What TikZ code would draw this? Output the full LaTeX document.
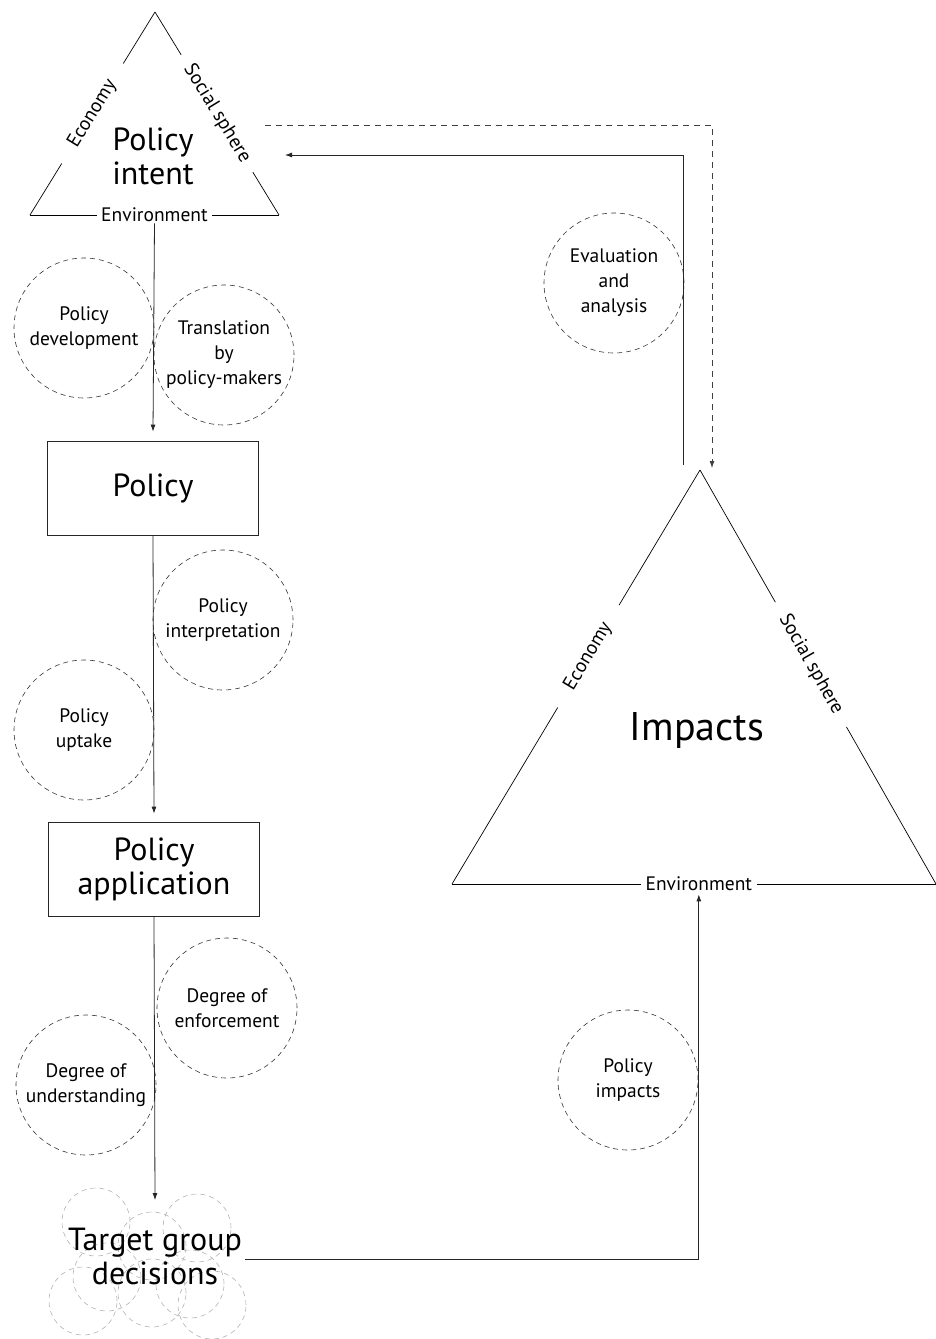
\documentclass[tikz,border=0pt]{standalone}
\usepackage{fontspec}
\setmainfont{PT Sans}
\usetikzlibrary{arrows.meta}
\newcommand{\labelFont}{\fontsize{19.5}{25}\selectfont}
\newcommand{\titleFont}{\fontsize{32}{34}\selectfont}
\newcommand{\impactFont}{\fontsize{40}{46}\selectfont}
\tikzset{
  triEdge/.style={draw=black, line width=0.7pt},
  triLabel/.style={sloped, fill=white, font=\labelFont, inner ysep=1pt},
  stageBox/.style={draw=black!85, line width=0.8pt, minimum width=211pt, minimum height=94pt, align=center, font=\titleFont},
  factorCircle/.style={circle, draw=black!80, line width=0.6pt, dash pattern=on 5pt off 4pt, minimum size=140pt, inner sep=0pt, align=center, font=\labelFont},
  groupCircle/.style={circle, draw=black!30, line width=0.6pt, dash pattern=on 5pt off 4pt, minimum size=68pt, inner sep=0pt},
  flowArrow/.style={-{Latex[length=7pt,width=5pt]}, draw=black!85, line width=0.8pt},
  flowDashedArrow/.style={-{Latex[length=7pt,width=5pt]}, draw=black!75, line width=0.8pt, dash pattern=on 6pt off 5pt}
}
\begin{document}
\begin{tikzpicture}[x=1pt, y=-1pt]
  \useasboundingbox (0,0) rectangle (936,1339);
  % policy intent triangle
  \coordinate (intentTop) at (155,12);
  \coordinate (intentLeft) at (30,215);
  \coordinate (intentRight) at (279,215);
  \draw[triEdge] (intentTop) -- node[triLabel, inner xsep=21pt] (intentEco) {Economy} (intentLeft);
  \draw[triEdge] (intentTop) -- node[triLabel, inner xsep=13pt] (intentSoc) {Social sphere} (intentRight);
  \draw[triEdge] (intentLeft) -- node[triLabel, inner xsep=4pt] (intentEnv) {Environment} (intentRight);
  \node[font=\titleFont, align=center] (intent) at (153,156) {Policy\\intent};

  % impacts triangle
  \coordinate (impTop) at (700,470);
  \coordinate (impLeft) at (452,884);
  \coordinate (impRight) at (936,884);
  \draw[triEdge] (impTop) -- node[triLabel, pos=0.45, inner xsep=22pt] (impEco) {Economy} (impLeft);
  \draw[triEdge] (impTop) -- node[triLabel, pos=0.47, inner xsep=16pt] (impSoc) {Social sphere} (impRight);
  \draw[triEdge] (impLeft) -- node[triLabel, pos=0.51, inner xsep=5pt] (impEnv) {Environment} (impRight);
  \node[font=\impactFont] (impacts) at (697,730) {Impacts};

  % boxes and target group
  \node[stageBox] (policy) at (153,488) {Policy};
  \node[stageBox] (policyApp) at (154,869) {Policy\\application};
  \foreach \cx/\cy in {96/1222, 197/1228, 152/1246, 107/1277, 190/1284, 83/1301, 152/1293, 212/1305}
    \node[groupCircle] at (\cx,\cy) {};
  \node[font=\titleFont, align=center] (target) at (155,1256) {Target group\\decisions};

  % factor circles
  \node[factorCircle] (develop) at (84,328) {Policy\\development};
  \node[factorCircle] (translate) at (224,355) {Translation\\by\\policy-makers};
  \node[factorCircle] (interpret) at (223,620) {Policy\\interpretation};
  \node[factorCircle] (uptake) at (84,730) {Policy\\uptake};
  \node[factorCircle] (enforce) at (227,1008) {Degree of\\enforcement};
  \node[factorCircle] (understand) at (86,1085) {Degree of\\understanding};
  \node[factorCircle] (evaluate) at (614,283) {Evaluation\\and\\analysis};
  \node[factorCircle] (impactsCircle) at (628,1080) {Policy\\impacts};

  % connectors
  \coordinate (evalOut) at (683,465);
  \coordinate (evalIn) at (285,155);
  \coordinate (loopStart) at (265,125);
  \coordinate (loopEnd) at (712,468);
  \draw[flowArrow] (intentEnv.south) -- ([yshift=9pt]policy.north);
  \draw[flowArrow] (policy.south) -- ([yshift=8pt]policyApp.north);
  \draw[flowArrow] (policyApp.south) -- ([yshift=24pt]target.north);
  \draw[flowArrow] ([yshift=-3pt]target.east) -| ([yshift=-2pt]impEnv.south);
  \draw[flowArrow] (evalOut) |- (evalIn);
  \draw[flowDashedArrow] (loopStart) -| (loopEnd);
\end{tikzpicture}
\end{document}
